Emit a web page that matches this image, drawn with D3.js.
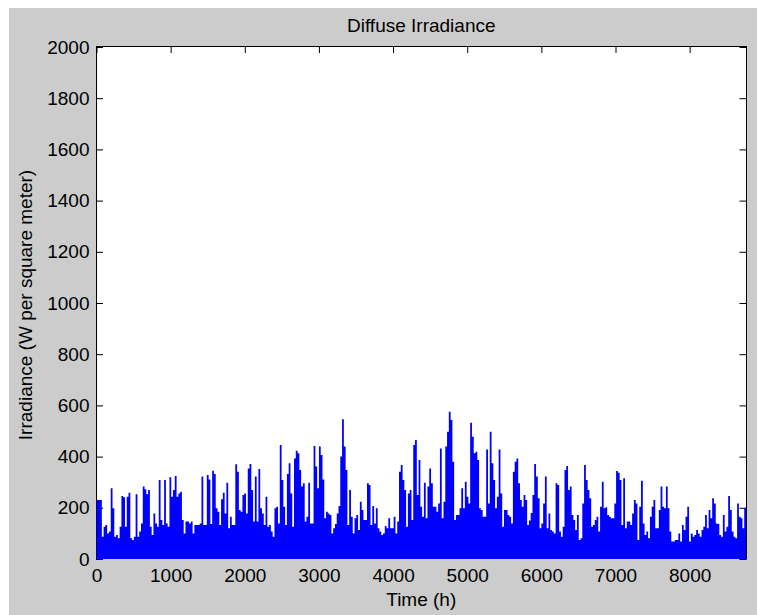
<!DOCTYPE html>
<html>
<head>
<meta charset="utf-8">
<script src="https://cdn.jsdelivr.net/npm/d3@7"></script>
<style>
  html, body { margin: 0; padding: 0; background: #fff; }
  svg { display: block; }
  text { font-family: "Liberation Sans", Arial, sans-serif; fill: #000; }
</style>
</head>
<body>
<svg id="chart"></svg>
<script>
// daily peak of diffuse irradiance (W/m^2), one value per day of the year
const dailyPeak = [
  230,230,230,87,126,133,100,107,276,198,
  87,94,81,126,246,241,126,243,259,81,
  74,87,253,87,107,139,283,272,253,270,
  126,94,178,139,126,309,152,133,309,139,
  126,319,243,270,324,243,256,263,152,100,
  146,146,139,146,100,133,133,133,139,322,
  133,133,328,311,137,345,332,198,185,133,
  233,259,178,298,120,165,133,133,370,341,
  191,185,250,256,178,354,371,270,146,322,
  146,352,198,178,133,243,126,133,107,87,
  198,204,139,445,309,204,133,332,374,256,
  126,393,423,413,348,283,296,146,165,298,
  139,139,441,361,276,439,406,311,159,185,
  178,172,100,120,137,178,207,400,546,439,
  348,133,270,165,100,159,172,113,224,191,
  152,152,296,289,133,207,139,198,120,107,
  94,100,129,120,159,120,120,165,100,146,
  341,367,309,270,126,256,270,152,445,465,
  250,387,204,165,298,159,283,354,296,204,
  204,185,217,432,159,224,439,497,575,543,
  380,152,172,172,198,276,198,302,243,217,
  532,478,413,419,387,198,191,165,165,428,
  217,497,374,309,198,243,428,256,126,191,
  191,172,165,139,341,380,393,296,230,204,
  250,230,133,150,180,250,371,322,237,120,
  139,217,322,120,178,113,107,100,296,289,
  107,87,126,348,363,270,283,172,152,113,
  172,74,81,217,367,309,270,237,126,133,
  152,165,107,204,302,198,202,172,165,159,
  159,217,344,337,309,133,315,120,146,146,
  133,178,230,217,74,204,306,139,94,107,
  81,165,204,230,120,120,191,283,204,198,
  283,198,107,68,68,74,74,100,68,133,
  113,165,204,68,100,87,94,113,100,87,
  113,126,172,120,191,159,237,217,139,137,
  94,87,172,107,126,246,191,107,87,81,
  217,165,159,120,200
];

const xTicks = [0, 1000, 2000, 3000, 4000, 5000, 6000, 7000, 8000];
const yTicks = [0, 200, 400, 600, 800, 1000, 1200, 1400, 1600, 1800, 2000];
const xDomain = [0, 8760];
const yDomain = [0, 2000];

const titleText = "Diffuse Irradiance";
const xLabel = "Time (h)";
const yLabel = "Irradiance (W per square meter)";

const w = 757, h = 615;
const plot = { left: 96.5, right: 746, top: 47, bottom: 559 };
const fontSize = 19;

const svg = d3.select("#chart")
  .attr("width", w)
  .attr("height", h);

// grey figure background
svg.append("rect")
  .attr("x", 9).attr("y", 8)
  .attr("width", w - 9).attr("height", h - 8)
  .attr("fill", "#cccccc");

const x = d3.scaleLinear().domain(xDomain).range([plot.left, plot.right]);
const y = d3.scaleLinear().domain(yDomain).range([plot.bottom, plot.top]);
const fmt = d3.format("d");

// axes box
svg.append("rect")
  .attr("x", plot.left).attr("y", plot.top - 0.5)
  .attr("width", plot.right - plot.left + 0.5)
  .attr("height", plot.bottom - plot.top)
  .attr("fill", "#fff")
  .attr("stroke", "#000")
  .attr("stroke-width", 1);

// ticks point inward on all four sides
function styleAxis(g) {
  g.select(".domain").remove();
  g.selectAll(".tick line").attr("stroke", "#000");
  g.selectAll(".tick text")
    .attr("font-size", fontSize)
    .attr("font-family", "'Liberation Sans', Arial, sans-serif")
    .attr("fill", "#000");
}

svg.append("g")
  .attr("transform", "translate(0," + plot.bottom + ")")
  .call(d3.axisBottom(x).tickValues(xTicks).tickFormat(fmt).tickSizeInner(-7).tickSizeOuter(0).tickPadding(10))
  .call(styleAxis);

svg.append("g")
  .attr("transform", "translate(0," + (plot.top - 1) + ")")
  .call(d3.axisTop(x).tickValues(xTicks).tickSizeInner(-7).tickSizeOuter(0).tickFormat(""))
  .call(styleAxis);

svg.append("g")
  .attr("transform", "translate(" + (plot.left - 0.5) + ",0)")
  .call(d3.axisLeft(y).tickValues(yTicks).tickFormat(fmt).tickSizeInner(-7).tickSizeOuter(0).tickPadding(6.5))
  .call(styleAxis);

svg.append("g")
  .attr("transform", "translate(" + (plot.right + 0.5) + ",0)")
  .call(d3.axisRight(y).tickValues(yTicks).tickSizeInner(-7).tickSizeOuter(0).tickFormat(""))
  .call(styleAxis);

// irradiance trace, drawn over the frame like the original plot
const pts = dailyPeak.map((v, i) => ({ hour: i * 24, value: v }));
pts.push({ hour: xDomain[1], value: dailyPeak[dailyPeak.length - 1] });

const area = d3.area()
  .x(d => x(d.hour))
  .y0(y(0))
  .y1(d => y(d.value))
  .curve(d3.curveStepAfter);

svg.append("path")
  .datum(pts)
  .attr("d", area)
  .attr("fill", "#0000ff");

// title and labels
svg.append("text")
  .attr("x", (plot.left + plot.right) / 2)
  .attr("y", 32)
  .attr("text-anchor", "middle")
  .attr("font-size", fontSize)
  .text(titleText);

svg.append("text")
  .attr("x", (plot.left + plot.right) / 2)
  .attr("y", 606)
  .attr("text-anchor", "middle")
  .attr("font-size", fontSize)
  .text(xLabel);

svg.append("text")
  .attr("transform", "translate(32,305) rotate(-90)")
  .attr("text-anchor", "middle")
  .attr("font-size", fontSize)
  .text(yLabel);
</script>
</body>
</html>
